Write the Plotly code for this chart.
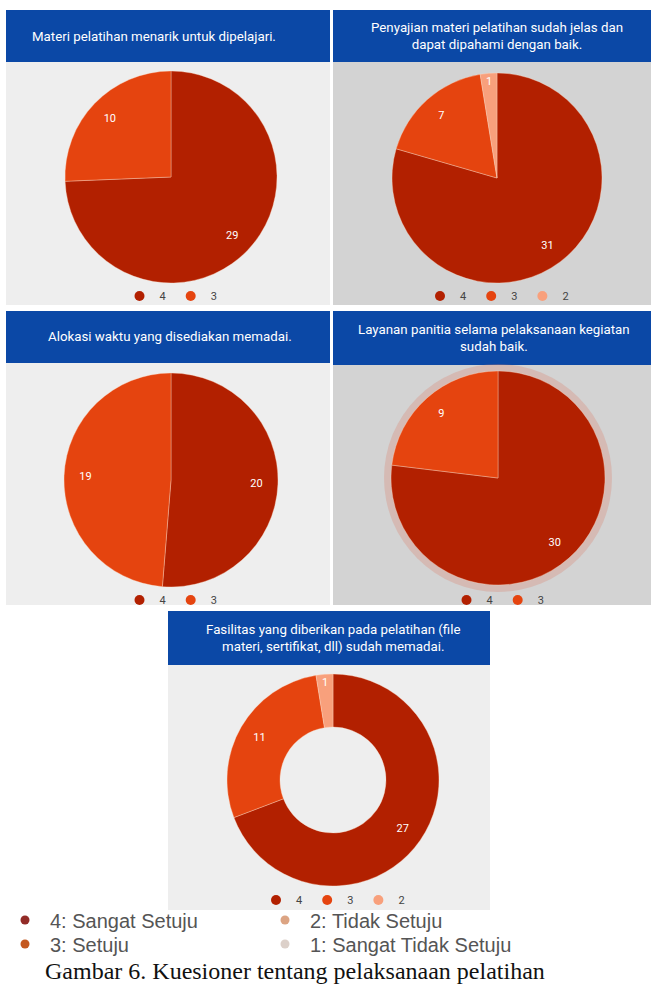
import plotly.graph_objects as go

W, H = 651, 998

# ---------------- data ----------------
categories3 = ["4", "3", "2"]
titles = [
    "Materi pelatihan menarik untuk dipelajari.",
    "Penyajian materi pelatihan sudah jelas dan<br>dapat dipahami dengan baik.",
    "Alokasi waktu yang disediakan memadai.",
    "Layanan panitia selama pelaksanaan kegiatan<br>sudah baik.",
    "Fasilitas yang diberikan pada pelatihan (file<br>materi, sertifikat, dll) sudah memadai.",
]
q1_values = [29, 10]
q2_values = [31, 7, 1]
q3_values = [20, 19]
q4_values = [30, 9]
q5_values = [27, 11, 1]
all_values = [q1_values, q2_values, q3_values, q4_values, q5_values]

scale_labels = ["4: Sangat Setuju", "3: Setuju", "2: Tidak Setuju", "1: Sangat Tidak Setuju"]
caption = "Gambar 6. Kuesioner tentang pelaksanaan pelatihan"

# ---------------- styles ----------------
slice_colors = ["#b22000", "#e5440f", "#f8a07c"]
scale_colors = ["#922b27", "#c4581f", "#dca483", "#dcd0c9"]
BLUE = "#0b48a6"
LIGHT_BG = "#eeeeee"
DARK_BG = "#d3d3d3"

# panel geometry in pixels
panels = [
    (6, 330, 10, 62, 305, LIGHT_BG, 171, 177, 106, 296, 0, "left", 30),
    (333, 651, 10, 62, 305, DARK_BG, 497, 178, 105, 296, 0, "center", 497),
    (6, 330, 311, 363, 605, LIGHT_BG, 171, 480, 107, 600, 0, "center", 170),
    (333, 651, 311, 365, 605, DARK_BG, 498, 478, 107, 600, 0, "center", 494),
    (168, 490, 611, 665, 910, LIGHT_BG, 333, 780, 106, 900, 0.5, "center", 333),
]
# bottom legend entry positions (left x, centre y) in pixels
scale_pos = [(0, 920), (0, 944), (260, 920), (260, 944)]


def fx(x):
    return x / W


def fy(y):
    return 1 - y / H


fig = go.Figure()
shapes = []
annotations = []

for i, (x0, x1, ty0, ty1, by1, bg, cx, cy, r, ly, hole, talign, tx) in enumerate(panels):
    vals = all_values[i]
    labs = categories3[:len(vals)]
    cols = slice_colors[:len(vals)]
    dom = dict(x=[fx(cx - r), fx(cx + r)], y=[fy(cy + r), fy(cy - r)])
    # panel background
    shapes.append(dict(type="rect", xref="paper", yref="paper",
                       x0=fx(x0), x1=fx(x1), y0=fy(by1), y1=fy(ty1),
                       fillcolor=bg, line=dict(width=0), layer="below"))
    # title band
    shapes.append(dict(type="rect", xref="paper", yref="paper",
                       x0=fx(x0), x1=fx(x1), y0=fy(ty1), y1=fy(ty0),
                       fillcolor=BLUE, line=dict(width=0), layer="below"))
    annotations.append(dict(
        text=titles[i], xref="paper", yref="paper",
        x=fx(tx), y=fy((ty0 + ty1) / 2),
        xanchor="left" if talign == "left" else "center", yanchor="middle",
        align=talign, showarrow=False,
        font=dict(family="Roboto", size=13.3, color="white")))
    if i == 3:
        # hover halo around pie 4
        shapes.append(dict(type="circle", xref="paper", yref="paper",
                           x0=fx(cx - r - 7), x1=fx(cx + r + 7),
                           y0=fy(cy + r + 7), y1=fy(cy - r - 7),
                           fillcolor="rgba(220,130,110,0.3)", line=dict(width=0),
                           layer="below"))
    # the pie itself
    fig.add_trace(go.Pie(
        labels=labs, values=vals, sort=False, direction="clockwise", rotation=0,
        hole=hole,
        marker=dict(colors=cols, line=dict(color="rgba(255,220,200,0.6)", width=0.6)),
        textinfo="none",
        domain=dom, showlegend=False, hoverinfo="label+value",
    ))
    # transparent ring carrying the value labels (places them at ~0.8 r)
    fig.add_trace(go.Pie(
        labels=labs, values=vals, sort=False, direction="clockwise", rotation=0,
        hole=0.6,
        marker=dict(colors=["rgba(0,0,0,0)"] * len(vals), line=dict(width=0)),
        textinfo="value", textposition="inside", insidetextorientation="horizontal",
        textfont=dict(family="Roboto", size=11, color="white"),
        domain=dom, showlegend=False, hoverinfo="skip",
    ))
    lname = "legend" if i == 0 else f"legend{i + 1}"
    for lab, col in zip(labs, cols):
        fig.add_trace(go.Scatter(
            x=[None], y=[None], mode="markers", name=lab,
            marker=dict(color=col, size=10, symbol="circle"),
            legend=lname, showlegend=True, hoverinfo="skip"))
    fig.layout[lname] = dict(
        orientation="h", x=fx(cx), xanchor="center", y=fy(ly), yanchor="middle",
        bgcolor="rgba(0,0,0,0)", itemwidth=30,
        font=dict(family="Roboto", size=11, color="#444444"),
        itemclick=False, itemdoubleclick=False)

# bottom scale legend: one small legend per entry, laid out in two columns
for j, (lab, col) in enumerate(zip(scale_labels, scale_colors)):
    lname = f"legend{6 + j}"
    fig.add_trace(go.Scatter(
        x=[None], y=[None], mode="markers", name=lab,
        marker=dict(color=col, size=9, symbol="circle"),
        legend=lname, showlegend=True, hoverinfo="skip"))
    lx, lyy = scale_pos[j]
    fig.layout[lname] = dict(
        orientation="h", x=fx(lx), xanchor="left", y=fy(lyy), yanchor="middle",
        bgcolor="rgba(0,0,0,0)", itemwidth=40,
        font=dict(family="Liberation Sans", size=20, color="#555555"),
        itemclick=False, itemdoubleclick=False)

annotations.append(dict(
    text=caption, xref="paper", yref="paper", x=fx(295), y=fy(971),
    xanchor="center", yanchor="middle", showarrow=False,
    font=dict(family="Liberation Serif", size=24, color="#111111")))

fig.update_layout(
    width=W, height=H, margin=dict(l=0, r=0, t=0, b=0),
    paper_bgcolor="white", plot_bgcolor="rgba(0,0,0,0)",
    xaxis=dict(visible=False), yaxis=dict(visible=False),
    shapes=shapes, annotations=annotations,
)

fig.write_html("out.html")
